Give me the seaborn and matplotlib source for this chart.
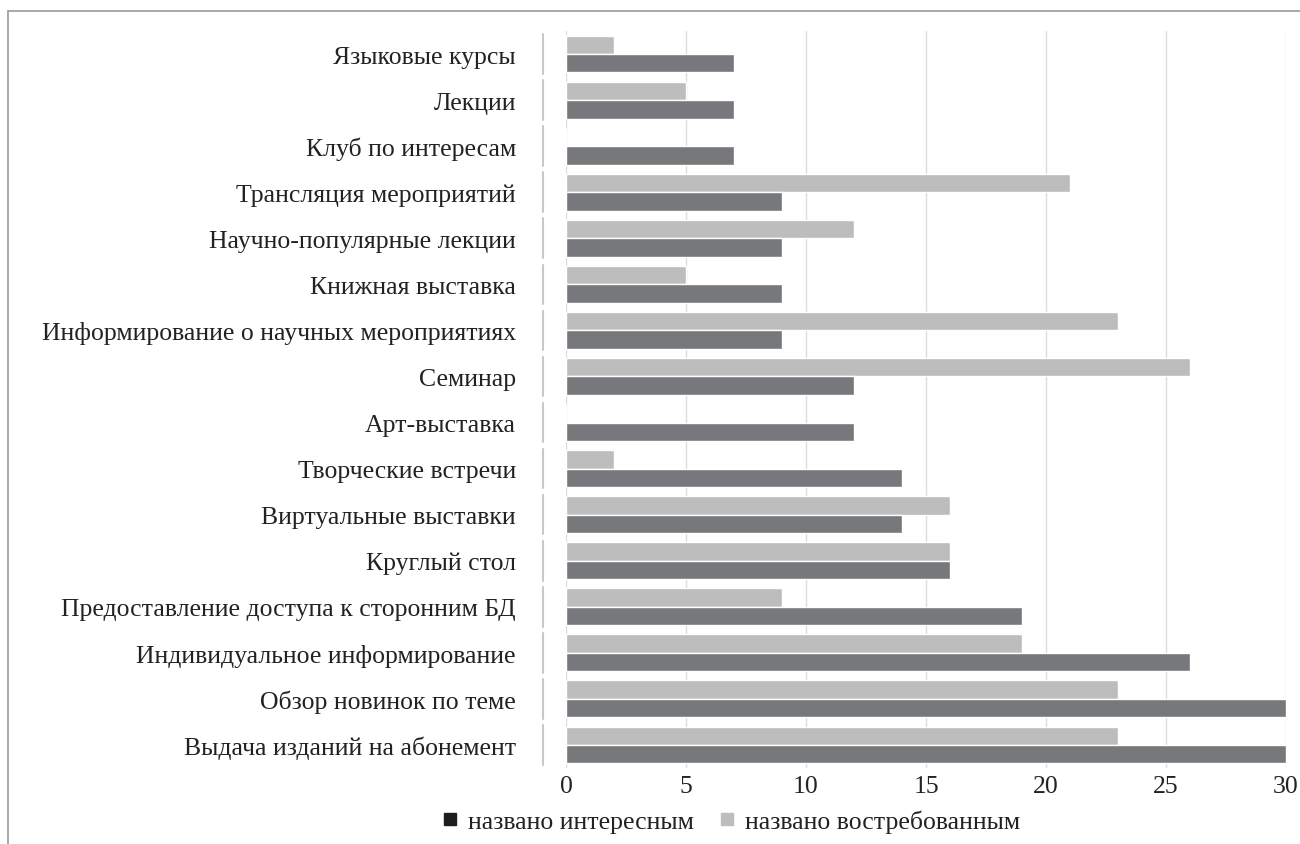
import matplotlib
matplotlib.use("Agg")
import matplotlib.pyplot as plt
import matplotlib.transforms as mtransforms
from matplotlib.lines import Line2D
import pandas as pd
import seaborn as sns

categories = [
    "Языковые курсы",
    "Лекции",
    "Клуб по интересам",
    "Трансляция мероприятий",
    "Научно-популярные лекции",
    "Книжная выставка",
    "Информирование о научных мероприятиях",
    "Семинар",
    "Арт-выставка",
    "Творческие встречи",
    "Виртуальные выставки",
    "Круглый стол",
    "Предоставление доступа к сторонним БД",
    "Индивидуальное информирование",
    "Обзор новинок по теме",
    "Выдача изданий на абонемент",
]
interesting = [7, 7, 7, 9, 9, 9, 9, 12, 12, 14, 14, 16, 19, 26, 30, 30]
demanded = [2, 5, 0, 21, 12, 5, 23, 26, 0, 2, 16, 16, 9, 19, 23, 23]
series_names = ["названо интересным", "названо востребованным"]
x_ticks = [0, 5, 10, 15, 20, 25, 30]

DARK = "#77787b"
LIGHT = "#bdbdbd"
FS = 18.5

sns.set_theme(style="white")
plt.rcParams["font.family"] = ["Liberation Serif", "DejaVu Serif"]

df = pd.DataFrame({
    "category": categories * 2,
    "value": demanded + interesting,
    "series": [series_names[1]] * len(categories) + [series_names[0]] * len(categories),
})

fig = plt.figure(figsize=(13, 8.45), dpi=100)
ax = fig.add_axes([566 / 1300, 1 - 769 / 845, 720 / 1300, (769 - 32) / 845])

sns.barplot(
    data=df, x="value", y="category", hue="series", orient="h",
    order=categories, hue_order=[series_names[1], series_names[0]],
    palette=[LIGHT, DARK], width=0.8, saturation=1, legend=False, ax=ax,
)

ax.set_xlim(0, 30)
ax.set_ylim(len(categories) - 0.5, -0.5)
ax.set_xticks(x_ticks)
ax.set_xticklabels([str(t) for t in x_ticks])
ax.set_xlabel("")
ax.set_ylabel("")
ax.grid(axis="x", color="#dcdcdc", linewidth=1)
ax.set_axisbelow(True)
for s in ax.spines.values():
    s.set_visible(False)
ax.tick_params(axis="y", length=0, pad=36, labelsize=FS, labelcolor="#222222")
ax.tick_params(axis="x", length=0, pad=5, labelsize=FS, labelcolor="#222222")

# segmented category axis to the left of the bars
trans = mtransforms.blended_transform_factory(ax.transAxes, ax.transData)
for i in range(len(categories)):
    ax.plot([-0.032, -0.032], [i - 0.43, i + 0.43], color="#c8c8c8",
            linewidth=1.5, transform=trans, clip_on=False)

# legend below the axis
handles = [
    Line2D([], [], marker="s", linestyle="", color="#1e1e1e", markersize=8),
    Line2D([], [], marker="s", linestyle="", color=LIGHT, markersize=8),
]
fig.legend(handles, series_names, loc="center", bbox_to_anchor=(731 / 1300, 1 - 822 / 845),
           ncol=2, frameon=False, fontsize=FS, handlelength=0.6, handletextpad=0.4,
           columnspacing=1.0, labelcolor="#222222", borderaxespad=0, borderpad=0)

# outer frame lines
fig.add_artist(Line2D([8 / 1300, 1.0], [1 - 12 / 845, 1 - 12 / 845], color="#9a9a9a", linewidth=1.2))
fig.add_artist(Line2D([8 / 1300, 8 / 1300], [0.0, 1 - 12 / 845], color="#9a9a9a", linewidth=1.2))

fig.savefig("out.png", dpi=100)
